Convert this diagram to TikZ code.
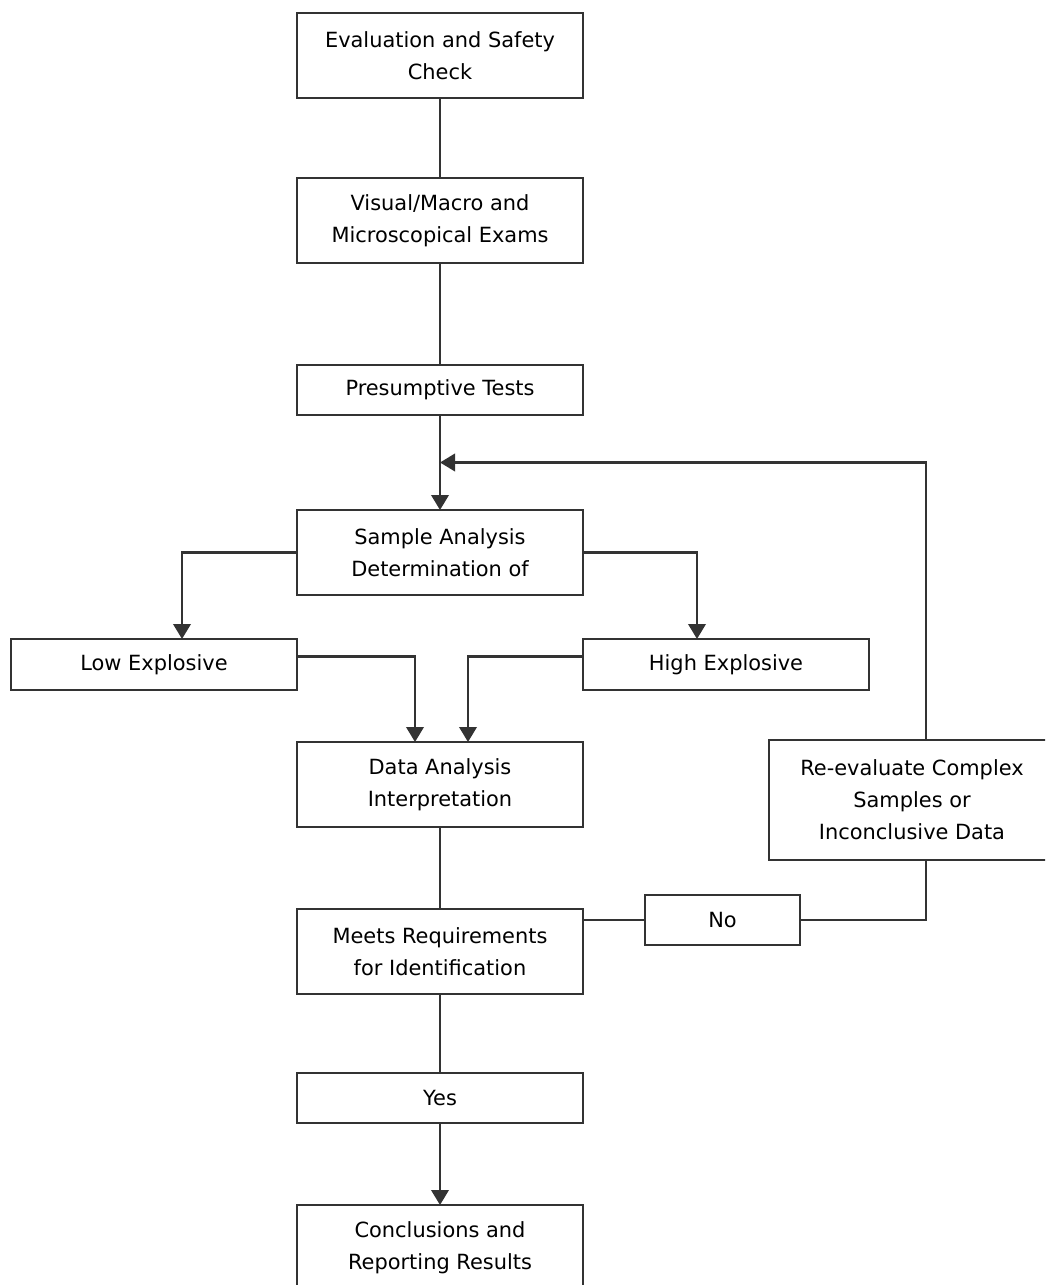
\documentclass[tikz,border=0pt]{standalone}
\usepackage{fontspec}
\setmainfont{DejaVu Sans}
\usetikzlibrary{positioning,arrows.meta,calc}

\begin{document}
\begin{tikzpicture}[node distance=1.6cm and 1.24cm, every node/.style={font=\fontsize{11.9}{18.2}\selectfont, align=center},
  caja/.style={draw=black!80, line width=1.1pt, outer sep=0pt, minimum width=5.72cm, minimum height=1.7cm, inner sep=2pt},
  cajabaja/.style={caja, minimum height=1cm},
  linea/.style={draw=black!80, line width=1.2pt},
  flecha/.style={linea, -{Triangle[length=0.3cm, width=0.35cm]}}]
\clip (0,0) rectangle (20.9,-25.7);
\fill[white] (0,0) rectangle (20.9,-25.7);
\node[caja] (ev) at (8.8,-1.11) {Evaluation and Safety\\Check};
\node[caja, below=of ev] (vis) {Visual/Macro and\\Microscopical Exams};
\node[cajabaja, below=2.04cm of vis] (pre) {Presumptive Tests};
\node[caja, below=1.9cm of pre] (sa) {Sample Analysis\\Determination of};
\node[cajabaja, minimum height=1.02cm, below=0.88cm of sa.south west, anchor=north east] (low) {Low Explosive};
\node[cajabaja, minimum height=1.02cm, below=0.88cm of sa.south east, anchor=north west] (hi) {High Explosive};
\node[caja, below=2.94cm of sa] (da) {Data Analysis\\Interpretation};
\node[caja, minimum height=2.4cm, right=3.72cm of da.north east, anchor=north west, yshift=0.04cm] (re) {Re-evaluate Complex\\Samples or\\Inconclusive Data};
\node[caja, below=1.64cm of da] (me) {Meets Requirements\\for Identification};
\node[cajabaja, minimum width=3.1cm, right=1.24cm of me.north east, yshift=-0.22cm] (no) {No};
\node[cajabaja, below=1.58cm of me] (yes) {Yes};
\node[caja, below=1.64cm of yes] (con) {Conclusions and\\Reporting Results};
% puntos de quiebre
\coordinate (bajo) at ($(low.north)+(0.56,0)$);
\coordinate (alto) at ($(hi.north)+(-0.58,0)$);
\coordinate (dai) at ($(da.north)+(-0.5,0)$);
\coordinate (dad) at ($(da.north)+(0.56,0)$);
\coordinate (lowe) at ($(low.east)+(0,0.16)$);
\coordinate (hiw) at ($(hi.west)+(0,0.16)$);
\coordinate (res) at ($(re.south)+(0.28,0)$);
\coordinate (ren) at ($(re.north)+(0.28,0)$);
\coordinate (ret) at ($(pre.south)!0.5!(sa.north)$);
\draw[linea] (ev) -- (vis); \draw[linea] (vis) -- (pre); \draw[flecha] (pre) -- (sa);
\draw[flecha] (sa.west) -| (bajo); \draw[flecha] (sa.east) -| (alto);
\draw[flecha] (lowe) -| (dai); \draw[flecha] (hiw) -| (dad);
\draw[linea] (da) -- (me); \draw[linea] (me.east |- no.west) -- (no.west);
\draw[linea] (no.east) -| (res); \draw[flecha] (ren) |- (ret);
\draw[linea] (me) -- (yes); \draw[flecha] (yes) -- (con);
\end{tikzpicture}
\end{document}
